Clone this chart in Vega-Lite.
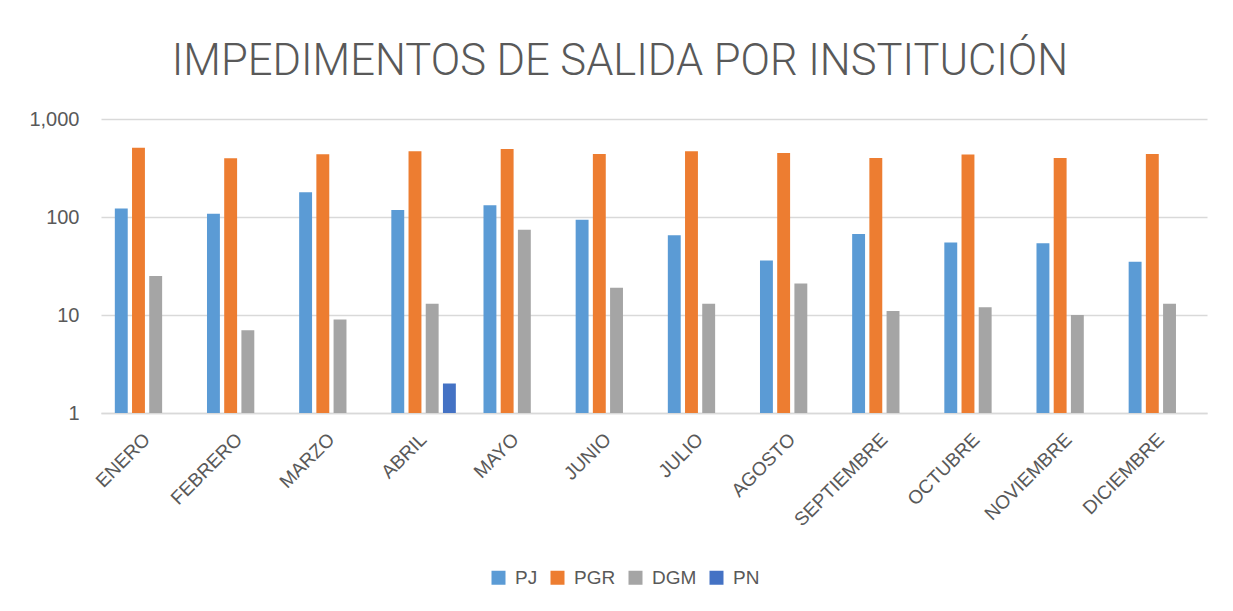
{
  "$schema": "https://vega.github.io/schema/vega-lite/v6.json",
  "width": 1106,
  "height": 294,
  "autosize": {"type": "none"},
  "padding": {"left": 101, "top": 119, "right": 26, "bottom": 198},
  "background": "white",
  "title": {
    "text": "IMPEDIMENTOS DE SALIDA POR  INSTITUCIÓN",
    "font": "Roboto",
    "fontSize": 43.5,
    "fontWeight": 300,
    "color": "#595959",
    "anchor": "middle",
    "dx": -34,
    "offset": 25
  },
  "data": {
    "values": [
      {"mes": "ENERO", "inst": "PJ", "valor": 122},
      {"mes": "ENERO", "inst": "PGR", "valor": 510},
      {"mes": "ENERO", "inst": "DGM", "valor": 25},
      {"mes": "FEBRERO", "inst": "PJ", "valor": 108},
      {"mes": "FEBRERO", "inst": "PGR", "valor": 397},
      {"mes": "FEBRERO", "inst": "DGM", "valor": 7},
      {"mes": "MARZO", "inst": "PJ", "valor": 179},
      {"mes": "MARZO", "inst": "PGR", "valor": 437},
      {"mes": "MARZO", "inst": "DGM", "valor": 9},
      {"mes": "ABRIL", "inst": "PJ", "valor": 118},
      {"mes": "ABRIL", "inst": "PGR", "valor": 469},
      {"mes": "ABRIL", "inst": "DGM", "valor": 13},
      {"mes": "ABRIL", "inst": "PN", "valor": 2},
      {"mes": "MAYO", "inst": "PJ", "valor": 132},
      {"mes": "MAYO", "inst": "PGR", "valor": 494},
      {"mes": "MAYO", "inst": "DGM", "valor": 74},
      {"mes": "JUNIO", "inst": "PJ", "valor": 94},
      {"mes": "JUNIO", "inst": "PGR", "valor": 440},
      {"mes": "JUNIO", "inst": "DGM", "valor": 19},
      {"mes": "JULIO", "inst": "PJ", "valor": 65},
      {"mes": "JULIO", "inst": "PGR", "valor": 469},
      {"mes": "JULIO", "inst": "DGM", "valor": 13},
      {"mes": "AGOSTO", "inst": "PJ", "valor": 36},
      {"mes": "AGOSTO", "inst": "PGR", "valor": 450},
      {"mes": "AGOSTO", "inst": "DGM", "valor": 21},
      {"mes": "SEPTIEMBRE", "inst": "PJ", "valor": 67},
      {"mes": "SEPTIEMBRE", "inst": "PGR", "valor": 400},
      {"mes": "SEPTIEMBRE", "inst": "DGM", "valor": 11},
      {"mes": "OCTUBRE", "inst": "PJ", "valor": 55},
      {"mes": "OCTUBRE", "inst": "PGR", "valor": 433},
      {"mes": "OCTUBRE", "inst": "DGM", "valor": 12},
      {"mes": "NOVIEMBRE", "inst": "PJ", "valor": 54},
      {"mes": "NOVIEMBRE", "inst": "PGR", "valor": 400},
      {"mes": "NOVIEMBRE", "inst": "DGM", "valor": 10},
      {"mes": "DICIEMBRE", "inst": "PJ", "valor": 35},
      {"mes": "DICIEMBRE", "inst": "PGR", "valor": 440},
      {"mes": "DICIEMBRE", "inst": "DGM", "valor": 13}
    ]
  },
  "mark": {"type": "bar"},
  "encoding": {
    "x": {
      "field": "mes",
      "type": "nominal",
      "sort": ["ENERO","FEBRERO","MARZO","ABRIL","MAYO","JUNIO","JULIO","AGOSTO","SEPTIEMBRE","OCTUBRE","NOVIEMBRE","DICIEMBRE"],
      "scale": {"paddingInner": 0.3, "paddingOuter": 0.15},
      "axis": {
        "title": null,
        "labelAngle": -45,
        "labelAlign": "right",
        "labelBaseline": "middle",
        "labelFont": "Liberation Sans, Arial",
        "labelFontSize": 19,
        "labelColor": "#595959",
        "labelPadding": 23,
        "ticks": false,
        "domainColor": "#d9d9d9",
        "domainWidth": 1.5,
        "grid": false
      }
    },
    "xOffset": {
      "field": "inst",
      "type": "nominal",
      "scale": {"domain": ["PJ","PGR","DGM","PN"], "paddingInner": 0.25, "paddingOuter": 0}
    },
    "y": {
      "field": "valor",
      "type": "quantitative",
      "stack": null,
      "scale": {"type": "log", "domain": [1, 1000], "nice": false},
      "axis": {
        "title": null,
        "values": [1, 10, 100, 1000],
        "format": ",",
        "labelFont": "Liberation Sans, Arial",
        "labelFontSize": 20,
        "labelColor": "#595959",
        "labelPadding": 22,
        "ticks": false,
        "domain": false,
        "gridColor": "#d9d9d9",
        "gridWidth": 1.5
      }
    },
    "y2": {"datum": 1},
    "color": {
      "field": "inst",
      "type": "nominal",
      "scale": {"domain": ["PJ","PGR","DGM","PN"], "range": ["#5B9BD5","#ED7D31","#A5A5A5","#4472C4"]},
      "legend": {
        "title": null,
        "orient": "none",
        "direction": "horizontal",
        "legendX": 388,
        "legendY": 449,
        "symbolType": "square",
        "symbolSize": 196,
        "symbolStrokeWidth": 0,
        "labelFont": "Liberation Sans, Arial",
        "labelFontSize": 19,
        "labelColor": "#595959",
        "columnPadding": 10,
        "labelOffset": 7
      }
    }
  },
  "config": {
    "view": {"stroke": null}
  }
}
